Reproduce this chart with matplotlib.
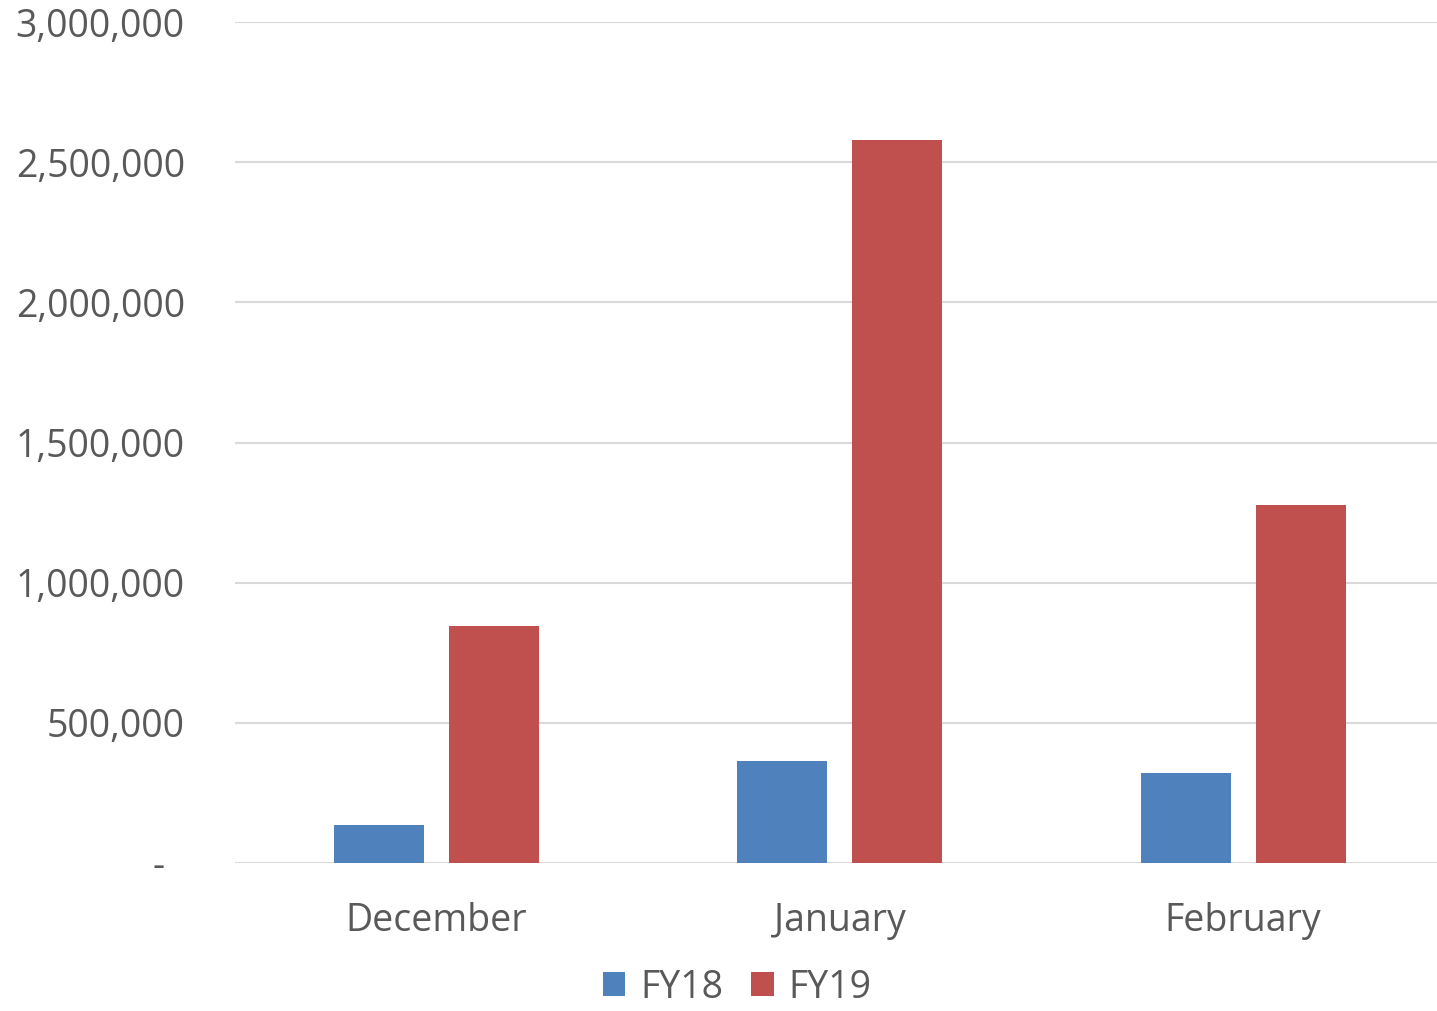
import numpy as np
import matplotlib.pyplot as plt
from matplotlib.ticker import FuncFormatter

months = ["December", "January", "February"]
fy18 = [135000, 364000, 321000]
fy19 = [845000, 2579000, 1277000]

plt.rcParams["font.family"] = ["Open Sans", "DejaVu Sans"]
text_color = "#595959"

fig = plt.figure(figsize=(14.37, 10.11), dpi=100)
# plot area runs slightly past the right edge
ax = fig.add_axes([0.1634, 0.1464, 0.842, 0.8318])

x = np.arange(len(months))
w = 0.223
gap = 0.062
ax.bar(x - (w + gap) / 2, fy18, w, color="#4F81BD", label="FY18", zorder=3)
ax.bar(x + (w + gap) / 2, fy19, w, color="#C0504D", label="FY19", zorder=3)

ax.set_xlim(-0.5, 2.5)
ax.set_ylim(0, 3000000)
ax.set_yticks(np.arange(0, 3000001, 500000))
ax.yaxis.set_major_formatter(FuncFormatter(lambda v, p: "-  " if v == 0 else f"{v:,.0f}"))
ax.set_xticks(x)
ax.set_xticklabels(months)

ax.grid(axis="y", color="#d9d9d9", linewidth=1.5, zorder=0)
for s in ["top", "right", "left", "bottom"]:
    ax.spines[s].set_visible(False)
ax.tick_params(axis="both", length=0, labelsize=27, labelcolor=text_color)
ax.tick_params(axis="y", pad=36)
ax.tick_params(axis="x", pad=28)

leg = fig.legend(loc="lower center", bbox_to_anchor=(0.513, -0.029), ncol=2, frameon=False,
                 fontsize=27, handlelength=0.6, handleheight=0.6, handletextpad=0.4,
                 columnspacing=0.75)
for t in leg.get_texts():
    t.set_color(text_color)

fig.savefig("out.png", dpi=100)
